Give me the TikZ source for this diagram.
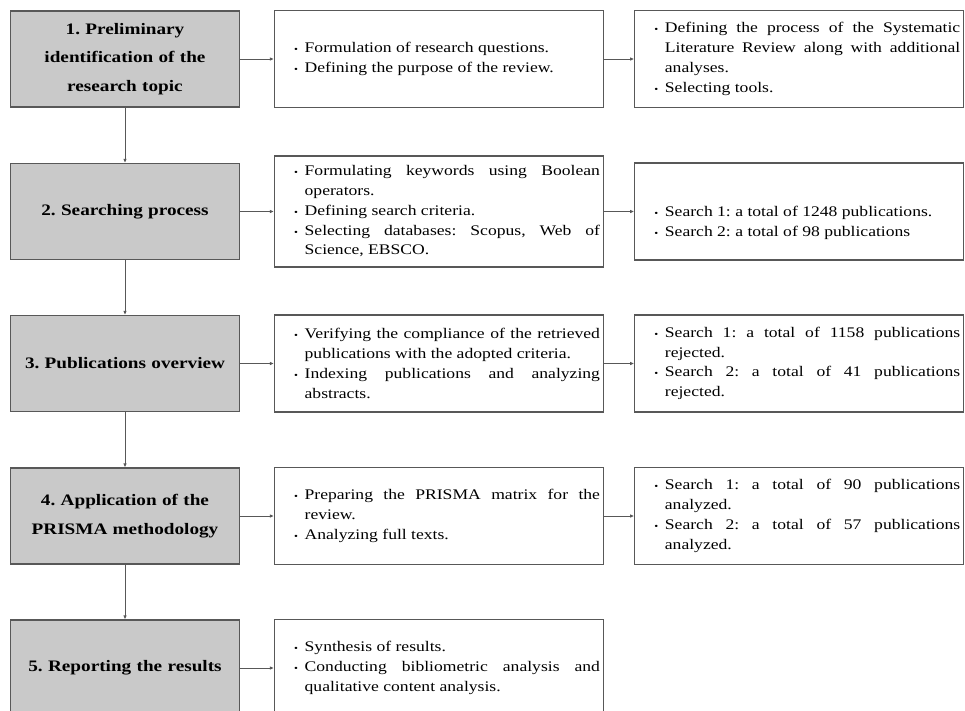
\documentclass[tikz,border=0pt]{standalone}
\usepackage{fontspec}
\setmainfont{Liberation Serif}[FakeStretch=1.2]
\usetikzlibrary{arrows.meta}
\definecolor{stagegray}{RGB}{201,201,201}
\definecolor{edgegray}{RGB}{88,88,88}
\newcommand{\bitem}[1]{{\leftskip=11pt\hangindent=9pt\hangafter=1\noindent\makebox[9pt][l]{\hspace{1pt}\scriptsize\textbullet}#1\par}}
\hyphenpenalty=10000
\frenchspacing
\tikzset{%
	stage/.style = {draw=edgegray, line width=0.8pt, fill=stagegray, rectangle,
		minimum width=171.75pt, minimum height=72pt, text width=160pt,
		align=center, font=\fontsize{12}{21.4}\selectfont\bfseries\frenchspacing}, % left column
	note/.style  = {draw=edgegray, line width=0.8pt, rectangle,
		minimum width=246.75pt, minimum height=72.75pt, text width=241.5pt,
		inner xsep=2.6pt, align=justify, font=\fontsize{11}{14.8}\selectfont\frenchspacing}, % text boxes
	link/.style  = {draw=edgegray, line width=0.6pt, ->} % connector
}
\begin{document}
\begin{tikzpicture}[x=0.75pt,y=0.75pt,>={Latex[length=3pt,width=2.6pt]}]
	\clip (0,0) rectangle (965,-711);
	
	\node[stage] at (125,-59) (stage1) {1. Preliminary\\ identification of the\\ research topic};
	\node[stage] at (125,-211.5) (stage2) {2. Searching process};
	\node[stage] at (125,-363.5) (stage3) {3. Publications overview};
	\node[stage] at (125,-516) (stage4) {4. Application of the\\ PRISMA methodology};
	\node[stage] at (125,-668) (stage5) {5. Reporting the results};
	
	\node[note] at (439,-59) (task1) {\bitem{Formulation of research questions.}\bitem{Defining the purpose of the review.}};
	\node[note,minimum height=83.25pt] at (439,-211.5) (task2) {\bitem{Formulating keywords using Boolean operators.}\bitem{Defining search criteria.}\bitem{Selecting databases: Scopus, Web of Science, EBSCO.}};
	\node[note] at (439,-363.5) (task3) {\bitem{Verifying the compliance of the retrieved publications with the adopted criteria.}\bitem{Indexing publications and analyzing abstracts.}};
	\node[note] at (439,-516) (task4) {\bitem{Preparing the PRISMA matrix for the review.}\bitem{Analyzing full texts.}};
	\node[note] at (439,-668) (task5) {\bitem{Synthesis of results.}\bitem{Conducting bibliometric analysis and qualitative content analysis.}};
	
	\node[note] at (799.25,-59) (result1) {\bitem{Defining the process of the Systematic Literature Review along with additional analyses.}\bitem{Selecting tools.}\vspace*{6pt}};
	\node[note] at (799.25,-211.5) (result2) {\bitem{\rule{0pt}{25pt}Search 1: a total of 1248 publications.}\bitem{Search 2: a total of 98 publications}};
	\node[note] at (799.25,-363.5) (result3) {\bitem{Search 1: a total of 1158 publications rejected.}\bitem{Search 2: a total of 41 publications rejected.}};
	\node[note] at (799.25,-516) (result4) {\bitem{Search 1: a total of 90 publications analyzed.}\bitem{Search 2: a total of 57 publications analyzed.}};
	
	\draw[link] (stage1) -- (stage2);
	\draw[link] (stage2) -- (stage3);
	\draw[link] (stage3) -- (stage4);
	\draw[link] (stage4) -- (stage5);
	\draw[link] (stage1) -- (task1);
	\draw[link] (stage2) -- (task2);
	\draw[link] (stage3) -- (task3);
	\draw[link] (stage4) -- (task4);
	\draw[link] (stage5) -- (task5);
	\draw[link] (task1) -- (result1);
	\draw[link] (task2) -- (result2);
	\draw[link] (task3) -- (result3);
	\draw[link] (task4) -- (result4);
	
\end{tikzpicture}
\end{document}
